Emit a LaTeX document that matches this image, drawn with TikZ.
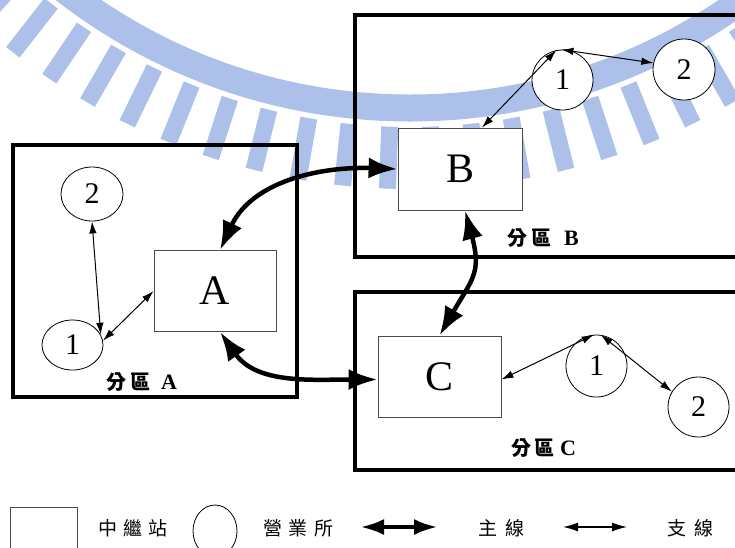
\documentclass[tikz,border=0pt]{standalone}
\usepackage{fontspec}
\setmainfont{Liberation Serif}
\newfontfamily\cjk{Noto Sans CJK TC}
\usetikzlibrary{arrows.meta,calc,shapes.geometric}
\definecolor{wm}{RGB}{172,192,233}
\begin{document}
\begin{tikzpicture}[x=1pt,y=1pt,
  station/.style={draw=black!70, line width=0.8pt, fill=white, minimum width=122pt, minimum height=81pt, inner sep=0pt, font=\fontsize{42}{42}\selectfont},
  office/.style={draw, line width=0.8pt, fill=white, ellipse, inner sep=0pt, font=\fontsize{30}{30}\selectfont},
  part/.style={draw, line width=4pt},
  mainline/.style={line width=4.5pt, {Latex[length=29pt,width=21pt]}-{Latex[length=29pt,width=21pt]}},
  mainleg/.style={line width=4.5pt, {Latex[length=24pt,width=16pt]}-{Latex[length=24pt,width=16pt]}},
  branch/.style={line width=1pt, {Latex[length=12pt,width=7.5pt]}-{Latex[length=12pt,width=7.5pt]}},
  branchleg/.style={line width=1.3pt, {Latex[length=15pt,width=9pt]}-{Latex[length=15pt,width=9pt]}},
  plabel/.style={font=\fontsize{20}{20}\selectfont\bfseries, anchor=west, inner sep=0pt},
  latin/.style={font=\fontsize{22}{22}\selectfont\bfseries},
  legtext/.style={font=\cjk\fontsize{19}{19}\selectfont, inner sep=0pt}
]
\useasboundingbox (0pt,0pt) rectangle (735pt,-547pt);
\clip (0pt,0pt) rectangle (735pt,-547pt);
\fill[white] (0pt,0pt) rectangle (735pt,-547pt);
% watermark
\coordinate (wc) at (410pt,456pt);
\draw[wm, line width=27pt] (wc) circle[radius=564pt];
\foreach \a in {-140,-136,...,-36} {
  \fill[wm, rotate around={\a+90:(wc)}] (401.5pt,-127pt) rectangle (418.5pt,-189pt);
}
% partitions
\draw[part] (13,-145) rectangle (297,-397);
\draw[part] (355,-15) rectangle (760,-257);
\draw[part] (355,-292) rectangle (760,-470);
% stations
\node[station] (A) at (215,-291) {A};
\node[station, minimum width=124pt, minimum height=82pt] (B) at (460,-169) {B};
\node[station, minimum width=123pt, minimum height=81pt] (C) at (439.5,-376.5) {C};
% offices
\node[office, minimum width=62pt, minimum height=54pt] (a2) at (92,-194) {2};
\node[office, minimum width=61pt, minimum height=50pt] (a1) at (72.5,-345) {1};
\node[office, minimum width=61pt, minimum height=60pt] (b1) at (562.5,-80) {1};
\node[office, minimum width=62pt, minimum height=61pt] (b2) at (684,-69.5) {2};
\node[office, minimum width=61pt, minimum height=62pt] (c1) at (596.5,-366) {1};
\node[office, minimum width=61pt, minimum height=60pt] (c2) at (698.5,-407) {2};
% branch lines
\draw[branch] (a2.south) -- (a1.20);
\draw[branch] (a1.8) -- (A.west);
\draw[branch] ($(B.north)+(22,0)$) -- (b1.102);
\draw[branch] (b1.92) -- (b2.168);
\draw[branch] ($(C.east)+(0,-3)$) -- (c1.95);
\draw[branch] (c1.82) -- (c2.150);
% main lines
\draw[mainline] ($(A.north)+(5,0)$) to[out=65,in=178] (B.west);
\draw[mainline] ($(A.south)+(5,0)$) to[out=-55,in=180] ($(C.west)+(0,-3)$);
\draw[mainline] ($(B.south)+(5,0)$) to[out=-75,in=60,looseness=1.3] (C.north);
% partition labels
\node[plabel] (la) at (106,-382) {{\cjk\bfseries 分\hspace{4pt}區}\hspace{11pt}{\fontsize{22}{22}\selectfont A}};
\node[plabel] (lb) at (507,-238) {{\cjk\bfseries 分\hspace{4pt}區}\hspace{13pt}{\fontsize{22}{22}\selectfont B}};
\node[plabel] (lc) at (511,-448) {{\cjk\bfseries 分\hspace{3pt}區}\hspace{6pt}{\fontsize{22}{22}\selectfont C}};
% legend
\node[draw=black!70, line width=0.8pt, minimum width=67pt, minimum height=60pt, anchor=north west, inner sep=0pt] (legS) at (10,-507) {};
\node[legtext] (t1) at (133,-528) {中\hspace{6.5pt}繼\hspace{6.5pt}站};
\node[draw, line width=0.8pt, ellipse, minimum width=44pt, minimum height=52pt, inner sep=0pt] (legO) at (215,-531) {};
\node[legtext] (t2) at (298,-528) {營\hspace{6.5pt}業\hspace{6.5pt}所};
\coordinate (m1) at (360,-527);
\coordinate (m2) at (438,-527);
\draw[mainleg] (m1) -- (m2);
\node[legtext] (t3) at (501,-528) {主\hspace{8pt}線};
\coordinate (n1) at (563,-527);
\coordinate (n2) at (627,-527);
\draw[branchleg] (n1) -- (n2);
\node[legtext] (t4) at (690,-528) {支\hspace{8pt}線};
\end{tikzpicture}
\end{document}
